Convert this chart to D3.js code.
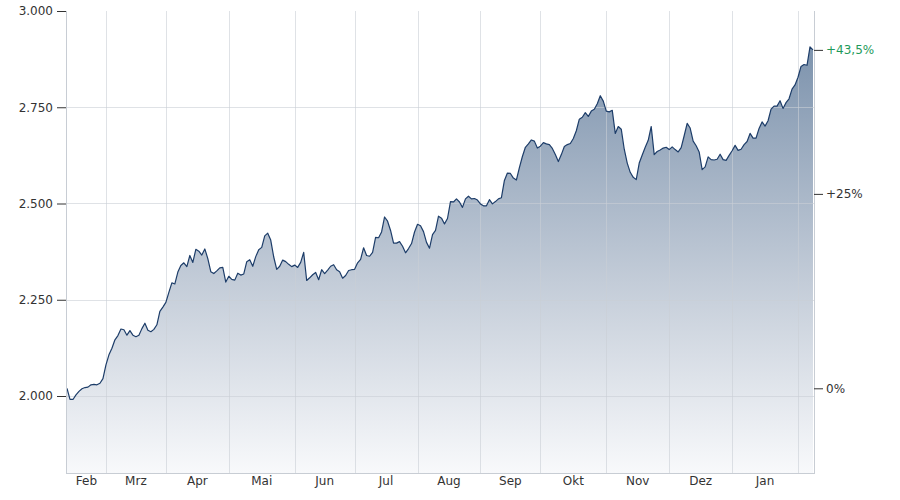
<!DOCTYPE html>
<html>
<head>
<meta charset="utf-8">
<script src="https://cdn.jsdelivr.net/npm/d3@7"></script>
<style>
  html, body { margin: 0; padding: 0; background: #fff; }
  svg text { font-family: "DejaVu Sans", Verdana, sans-serif; font-size: 12px; }
</style>
</head>
<body>
<svg id="chart" width="900" height="500"></svg>
<script>
const values = [
  2020,1991,1991,2003,2012,2019,2022,2023,2029,2030,
  2029,2033,2045,2081,2107,2124,2146,2157,2174,2172,
  2158,2170,2158,2154,2158,2175,2189,2171,2167,2173,
  2185,2220,2231,2243,2269,2294,2291,2322,2339,2346,
  2336,2365,2347,2381,2376,2366,2382,2357,2323,2318,
  2325,2333,2334,2296,2311,2303,2301,2319,2314,2317,
  2349,2354,2337,2362,2380,2386,2416,2423,2405,2361,
  2329,2337,2353,2349,2342,2336,2340,2334,2347,2373,
  2300,2307,2315,2321,2302,2328,2318,2327,2337,2341,
  2328,2323,2306,2313,2326,2328,2329,2346,2355,2385,
  2365,2363,2373,2412,2411,2426,2465,2454,2430,2397,
  2397,2401,2389,2372,2383,2396,2426,2446,2442,2427,
  2399,2384,2419,2430,2467,2462,2447,2461,2505,2504,
  2512,2504,2490,2512,2519,2512,2513,2509,2499,2494,
  2494,2510,2499,2505,2512,2515,2560,2579,2578,2566,
  2561,2593,2622,2646,2655,2665,2662,2644,2649,2658,
  2655,2653,2643,2627,2609,2627,2648,2653,2656,2669,
  2689,2719,2724,2736,2726,2740,2745,2759,2780,2766,
  2740,2738,2742,2682,2700,2693,2641,2605,2581,2568,
  2562,2605,2626,2646,2664,2700,2627,2635,2639,2644,
  2646,2640,2647,2640,2634,2645,2676,2708,2696,2662,
  2650,2634,2588,2595,2621,2614,2613,2615,2628,2614,
  2612,2625,2637,2651,2638,2641,2653,2661,2682,2670,
  2670,2695,2712,2701,2715,2745,2753,2753,2767,2747,
  2762,2772,2797,2808,2828,2856,2861,2859,2907,2899
];
// index of first trading day of each month (Mar .. Feb)
const monthStarts = [13,33,54,76,96,117,138,158,180,201,222,244];
const monthLabels = ["Feb","Mrz","Apr","Mai","Jun","Jul","Aug","Sep","Okt","Nov","Dez","Jan"];
const yTicks = [2000,2250,2500,2750,3000];
const yDomain = [1800,3000];
const pctTicks = [0,25];

(function () {
const svg = d3.select("#chart");
const mLeft = 67, mRight = 813, mTop = 11, mBottom = 473;

const x = d3.scaleLinear().domain([0, values.length - 1]).range([mLeft, mRight]);
const y = d3.scaleLinear().domain(yDomain).range([mBottom, mTop]);

const de = d3.formatLocale({decimal: ",", thousands: ".", grouping: [3], currency: ["", "€"]});
const fmtNum = de.format(",");
const fmtPct = de.format("+.1f");

// gradient
const defs = svg.append("defs");
const grad = defs.append("linearGradient")
  .attr("id", "areaGrad").attr("gradientUnits", "userSpaceOnUse")
  .attr("x1", 0).attr("x2", 0)
  .attr("y1", y(d3.max(values))).attr("y2", mBottom);
grad.append("stop").attr("offset", "0%").attr("stop-color", "#7d93ad");
grad.append("stop").attr("offset", "55%").attr("stop-color", "#c3ccd8");
grad.append("stop").attr("offset", "100%").attr("stop-color", "#f8f9fb");

// area
const area = d3.area().x((d, i) => x(i)).y0(mBottom).y1(d => y(d));
svg.append("path").datum(values).attr("d", area).attr("fill", "url(#areaGrad)");

// grid lines
const grid = svg.append("g").attr("stroke", "#c9ced6").attr("stroke-opacity", 0.6).attr("shape-rendering", "crispEdges");
grid.selectAll("line.h").data(yTicks.filter(t => t < yDomain[1])).enter().append("line")
  .attr("x1", mLeft).attr("x2", mRight + 1)
  .attr("y1", d => Math.round(y(d)) + 0.5).attr("y2", d => Math.round(y(d)) + 0.5);
grid.selectAll("line.v").data(monthStarts).enter().append("line")
  .attr("y1", mTop).attr("y2", mBottom)
  .attr("x1", d => Math.round(x(d)) + 0.5).attr("x2", d => Math.round(x(d)) + 0.5);

// line
const line = d3.line().x((d, i) => x(i)).y(d => y(d));
svg.append("path").datum(values).attr("d", line)
  .attr("fill", "none").attr("stroke", "#1d3d69").attr("stroke-width", 1.2)
  .attr("stroke-linejoin", "round");

// frame lines
svg.append("line").attr("x1", mLeft - 0.5).attr("x2", mLeft - 0.5).attr("y1", mTop).attr("y2", mBottom + 1)
  .attr("stroke", "#c8cdd4");
svg.append("line").attr("x1", mRight + 1.5).attr("x2", mRight + 1.5).attr("y1", mTop).attr("y2", mBottom + 1)
  .attr("stroke", "#c8cdd4");
svg.append("line").attr("x1", mLeft - 1).attr("x2", mRight + 2).attr("y1", mBottom + 0.5).attr("y2", mBottom + 0.5)
  .attr("stroke", "#c8cdd4");

// left axis
const yAxis = d3.axisLeft(y).tickValues(yTicks).tickSize(9).tickPadding(4).tickFormat(d => fmtNum(d));
const gy = svg.append("g").attr("transform", `translate(${mLeft - 1},0)`).call(yAxis);
gy.select(".domain").remove();
gy.selectAll(".tick line").attr("stroke", "#333");
gy.selectAll(".tick text").attr("fill", "#333").style("font-family", "DejaVu Sans").style("font-size", "12px");

// right axis (percent change)
const base = values[0];
const last = values[values.length - 1];
const lastPct = (last / base - 1) * 100;
const pctVals = pctTicks.concat([lastPct]);
const yAxisR = d3.axisRight(y).tickValues(pctVals.map(p => base * (1 + p / 100)))
  .tickSize(9).tickPadding(3)
  .tickFormat((d, i) => {
    const p = pctVals[i];
    if (p === 0) return "0%";
    return (Number.isInteger(p) ? "+" + p : fmtPct(p)) + "%";
  });
const gr = svg.append("g").attr("transform", `translate(${mRight + 1},0)`).call(yAxisR);
gr.select(".domain").remove();
gr.selectAll(".tick line").attr("stroke", "#333");
gr.selectAll(".tick text").attr("fill", (d, i) => i === pctVals.length - 1 ? "#1e9a5a" : "#333")
  .style("font-family", "DejaVu Sans").style("font-size", "12px");

// month labels
const bounds = [0].concat(monthStarts);
svg.append("g").selectAll("text").data(monthLabels).enter().append("text")
  .attr("x", (d, i) => (x(bounds[i]) + x(bounds[i + 1])) / 2)
  .attr("y", 485)
  .attr("text-anchor", "middle")
  .attr("fill", "#333")
  .text(d => d);
})();
</script>
</body>
</html>
